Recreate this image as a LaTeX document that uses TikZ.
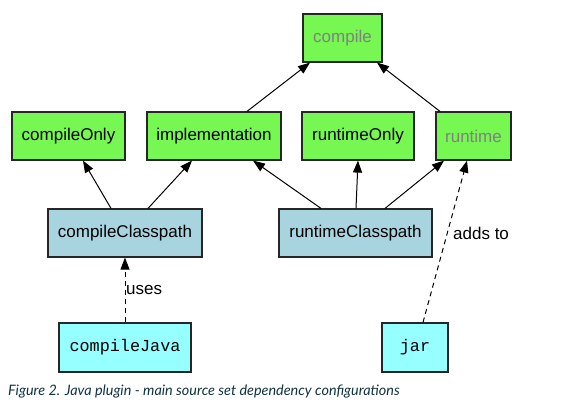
\documentclass[tikz,border=0pt]{standalone}
\usepackage{fontspec}
\setmainfont{Liberation Sans}
\setmonofont{Liberation Mono}
\newfontfamily\capfont{Lato}
\usetikzlibrary{arrows.meta}
\definecolor{cfggreen}{RGB}{118,247,82}
\definecolor{cpblue}{RGB}{168,212,224}
\definecolor{taskcyan}{RGB}{150,255,255}
\definecolor{capcol}{RGB}{17,51,64}
\tikzset{
  box/.style={draw=black!85, line width=1.2pt, inner sep=0pt, minimum height=48pt,
    font=\fontsize{17}{20}\selectfont},
  cfg/.style={box, fill=cfggreen},
  cpath/.style={box, fill=cpblue},
  task/.style={box, fill=taskcyan, font=\fontsize{16.8}{20}\selectfont\ttfamily},
  dep/.style={draw, line width=1pt, -{Triangle[length=12pt,width=9pt]}},
  dashdep/.style={dep, dash pattern=on 5pt off 4pt},
  lbl/.style={font=\fontsize{17}{20}\selectfont, inner sep=0pt, anchor=west}
}
\begin{document}
\begin{tikzpicture}[x=1pt,y=1pt]
\useasboundingbox (0,0) rectangle (575,408);
\node[cfg, minimum width=79pt, text=gray] (compile) at (342.5,370) {compile};
\node[cfg, minimum width=113pt] (co) at (68.5,272) {compileOnly};
\node[cfg, minimum width=134pt] (impl) at (214,272) {implementation};
\node[cfg, minimum width=112pt] (ro) at (358,272) {runtimeOnly};
\node[cfg, minimum width=75pt, text=gray] (rt) at (473.5,272) {runtime};
\node[cpath, minimum width=154pt] (cc) at (125,175) {compileClasspath};
\node[cpath, minimum width=153pt] (rc) at (355.5,175) {runtimeClasspath};
\node[task, minimum width=132pt, minimum height=49pt] (cj) at (125,60.5) {compileJava};
\node[task, minimum width=66pt, minimum height=49pt] (jar) at (415,60.5) {jar};

\draw[dep] ([xshift=-14pt]cc.north) -- ([xshift=14.5pt]co.south);
\draw[dep] ([xshift=23pt]cc.north) -- ([xshift=-22pt]impl.south);
\draw[dep] ([xshift=33pt]impl.north) -- ([xshift=-32.5pt]compile.south);
\draw[dep] ([xshift=-33.5pt]rt.north) -- ([xshift=34.5pt]compile.south);
\draw[dep] ([xshift=-34.5pt]rc.north) -- ([xshift=39pt]impl.south);
\draw[dep] ([xshift=0.5pt]rc.north) -- (ro.south);
\draw[dep] ([xshift=29.5pt]rc.north) -- ([xshift=-29.5pt]rt.south);
\draw[dashdep] ([xshift=8pt]jar.north) -- ([xshift=-6.5pt]rt.south);
\draw[dashdep] (cj.north) -- (cc.south);

\node[lbl] (uses) at (126,118) {uses};
\node[lbl] (addsto) at (453,175) {adds to};

\node[anchor=base west, inner sep=0pt, text=capcol,
  font=\capfont\itshape\fontsize{14.4}{17}\selectfont] (cap) at (8,13)
  {Figure 2. Java plugin - main source set dependency configurations};
\end{tikzpicture}
\end{document}
